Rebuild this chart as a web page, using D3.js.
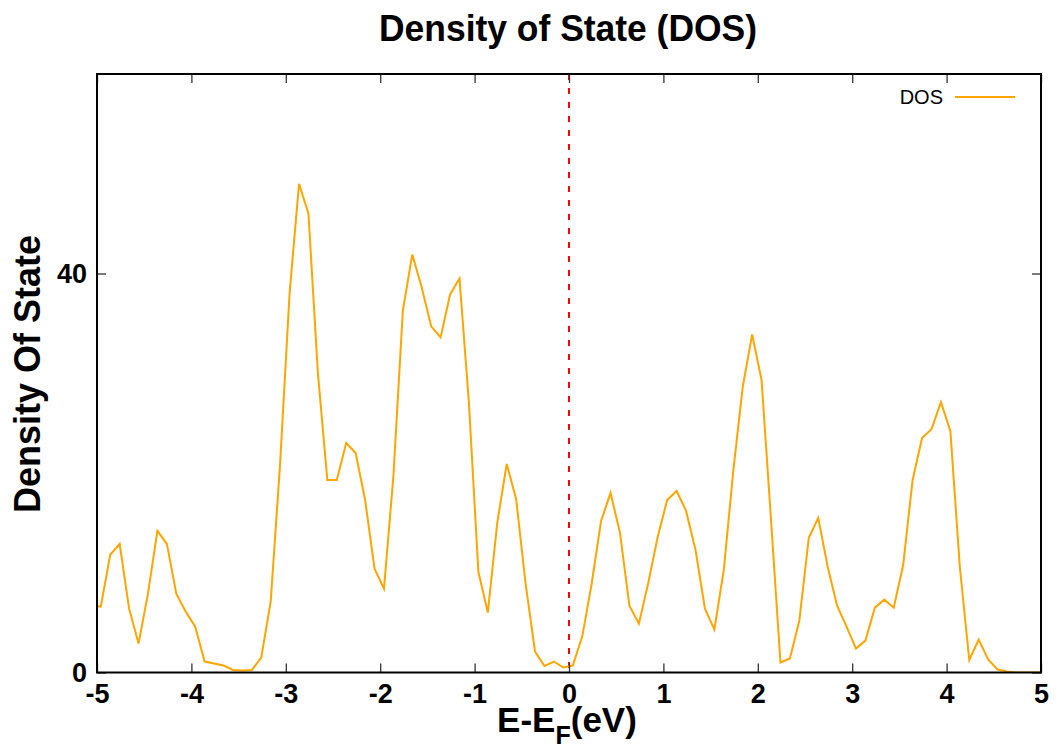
<!DOCTYPE html>
<html>
<head>
<meta charset="utf-8">
<script src="https://cdn.jsdelivr.net/npm/d3@7"></script>
<style>
  body { margin: 0; background: #fff; }
  svg { display: block; font-family: "Liberation Sans", Arial, sans-serif; }
</style>
</head>
<body>
<svg id="chart"></svg>
<script>
// energy grid (E - E_F, eV) and DOS values
const energies = [
  -5.06, -4.96, -4.86, -4.76, -4.66, -4.56, -4.46, -4.36, -4.26, -4.16, -4.06,
  -3.96, -3.86, -3.76, -3.66, -3.56, -3.46, -3.36, -3.26, -3.16, -3.06,
  -2.96, -2.86, -2.76, -2.66, -2.56, -2.46, -2.36, -2.26, -2.16, -2.06,
  -1.96, -1.86, -1.76, -1.66, -1.56, -1.46, -1.36, -1.26, -1.16, -1.06,
  -0.96, -0.86, -0.76, -0.66, -0.56, -0.46, -0.36, -0.26, -0.16, -0.06,
  0.04, 0.14, 0.24, 0.34, 0.44, 0.54, 0.64, 0.74, 0.84, 0.94,
  1.04, 1.14, 1.24, 1.34, 1.44, 1.54, 1.64, 1.74, 1.84, 1.94,
  2.04, 2.14, 2.24, 2.34, 2.44, 2.54, 2.64, 2.74, 2.84, 2.94,
  3.04, 3.14, 3.24, 3.34, 3.44, 3.54, 3.64, 3.74, 3.84, 3.94,
  4.04, 4.14, 4.24, 4.34, 4.44, 4.54, 4.64, 4.74, 4.84, 4.94, 5.04
];
const dos = [
  6.8, 6.6, 11.8, 12.9, 6.4, 2.9, 7.9, 14.2, 12.9, 7.9, 6.1,
  4.6, 1.1, 0.9, 0.7, 0.25, 0.2, 0.25, 1.5, 7.1, 21,
  38, 49, 46, 30, 19.3, 19.3, 23, 22, 17.3, 10.4,
  8.4, 19.7, 36.3, 41.9, 38.6, 34.7, 33.6, 37.9, 39.5, 27,
  10.1, 6.0, 15.0, 20.9, 17.4, 8.9, 2.1, 0.65, 1.1, 0.5,
  0.7, 3.6, 8.9, 15.2, 18.0, 14.0, 6.7, 4.9, 9.0, 13.6,
  17.3, 18.2, 16.2, 12.3, 6.4, 4.3, 10.3, 20.2, 28.6, 33.9,
  29.3, 15.3, 1.0, 1.4, 5.2, 13.5, 15.5, 10.6, 6.7, 4.6,
  2.4, 3.2, 6.5, 7.3, 6.5, 10.8, 19.3, 23.5, 24.4, 27.1,
  24.2, 10.6, 1.25, 3.3, 1.3, 0.3, 0.1, 0, 0, 0, 0
];
const xTicks = [-5, -4, -3, -2, -1, 0, 1, 2, 3, 4, 5];
const yTicks = [0, 40];
const fermiLevel = 0;

const width = 1056;
const height = 751;
const margin = { top: 74, right: 15, bottom: 78.5, left: 97 };
const plotW = width - margin.left - margin.right;
const plotH = height - margin.top - margin.bottom;

const svg = d3.select("#chart")
  .attr("width", width)
  .attr("height", height);

const x = d3.scaleLinear().domain([-5, 5]).range([0, plotW]);
const y = d3.scaleLinear().domain([0, 60]).range([plotH, 0]);

const g = svg.append("g")
  .attr("transform", `translate(${margin.left},${margin.top})`);

g.append("clipPath").attr("id", "clip")
  .append("rect").attr("width", plotW).attr("height", plotH);

// fermi level
g.append("line")
  .attr("x1", x(fermiLevel)).attr("x2", x(fermiLevel))
  .attr("y1", 0).attr("y2", plotH)
  .attr("stroke", "#ff0000")
  .attr("stroke-width", 2)
  .attr("stroke-dasharray", "6,8");

const points = energies.map((e, i) => [e, dos[i]]);
const line = d3.line().x(d => x(d[0])).y(d => y(d[1]));

g.append("path")
  .datum(points)
  .attr("clip-path", "url(#clip)")
  .attr("fill", "none")
  .attr("stroke", "#ffa500")
  .attr("stroke-width", 2)
  .attr("d", line);

// axes with inward ticks, plain hyphen for negatives
const tickLen = 9;
const fmt = d => String(d);
function styleAxis(sel) {
  sel.select(".domain").remove();
  sel.selectAll(".tick line").attr("stroke", "#333").attr("stroke-width", 1.3);
  sel.selectAll("text")
    .attr("fill", "#000")
    .attr("font-weight", "bold")
    .attr("font-size", 27);
}

g.append("g")
  .attr("transform", `translate(0,${plotH})`)
  .call(d3.axisBottom(x).tickValues(xTicks).tickSizeInner(-tickLen).tickSizeOuter(0).tickPadding(11).tickFormat(fmt))
  .call(styleAxis);

g.append("g")
  .call(d3.axisTop(x).tickValues(xTicks).tickSizeInner(-tickLen).tickSizeOuter(0).tickFormat(""))
  .call(styleAxis);

g.append("g")
  .call(d3.axisLeft(y).tickValues(yTicks).tickSizeInner(-tickLen).tickSizeOuter(0).tickPadding(10).tickFormat(fmt))
  .call(styleAxis);

g.append("g")
  .attr("transform", `translate(${plotW},0)`)
  .call(d3.axisRight(y).tickValues(yTicks).tickSizeInner(-tickLen).tickSizeOuter(0).tickFormat(""))
  .call(styleAxis);

// border on top
g.append("rect")
  .attr("width", plotW).attr("height", plotH)
  .attr("fill", "none")
  .attr("stroke", "#000")
  .attr("stroke-width", 2);

// legend
const legend = g.append("g").attr("transform", `translate(${plotW - 98},23)`);
legend.append("text")
  .attr("x", 0).attr("y", 7)
  .attr("text-anchor", "end")
  .attr("font-size", 20)
  .text("DOS");
legend.append("line")
  .attr("x1", 12).attr("x2", 72)
  .attr("stroke", "#ffa500")
  .attr("stroke-width", 2);

// titles
svg.append("text")
  .attr("x", 568).attr("y", 41)
  .attr("text-anchor", "middle")
  .attr("font-weight", "bold")
  .attr("font-size", 37)
  .attr("textLength", 378)
  .attr("lengthAdjust", "spacingAndGlyphs")
  .text("Density of State (DOS)");

const xLabel = svg.append("text")
  .attr("x", 567).attr("y", 732)
  .attr("text-anchor", "middle")
  .attr("font-weight", "bold")
  .attr("font-size", 35);
xLabel.append("tspan").text("E-E");
xLabel.append("tspan").attr("dy", 12).attr("font-size", 25).text("F");
xLabel.append("tspan").attr("dy", -12).text("(eV)");

svg.append("text")
  .attr("transform", "translate(40,374) rotate(-90)")
  .attr("text-anchor", "middle")
  .attr("font-weight", "bold")
  .attr("font-size", 36)
  .text("Density Of State");
</script>
</body>
</html>
